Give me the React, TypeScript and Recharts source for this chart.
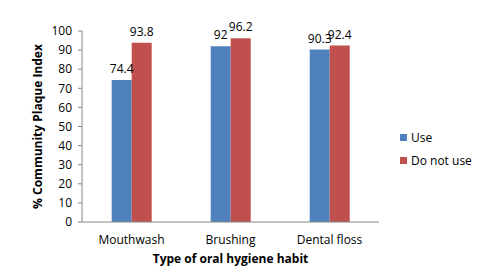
import React from 'react';
import { BarChart, Bar, XAxis, YAxis, LabelList, Label } from 'recharts';

const categories = ['Mouthwash', 'Brushing', 'Dental floss'];
const useValues = [74.4, 92, 90.3];
const notUseValues = [93.8, 96.2, 92.4];
const yTicks = [0, 10, 20, 30, 40, 50, 60, 70, 80, 90, 100];
const seriesNames = ['Use', 'Do not use'];
const seriesColors = ['#4F81BD', '#C0504D'];

const data = categories.map((name, i) => ({ name, use: useValues[i], notUse: notUseValues[i] }));

const FONT = '"Open Sans", sans-serif';

export default function App() {
  return (
    <div style={{ position: 'absolute', left: 0, top: 0, width: 479, height: 274, background: '#fff', fontFamily: FONT }}>
      <BarChart
        width={479}
        height={274}
        data={data}
        margin={{ top: 31, right: 100, bottom: 32, left: 42 }}
        barCategoryGap="30%"
        barGap={0}
      >
        <XAxis
          dataKey="name"
          height={20}
          tickLine={false}
          axisLine={{ stroke: '#868686' }}
          tick={{ fill: '#000', fontSize: 12, fontFamily: FONT }}
          tickMargin={7}
        >
          <Label
            value="Type of oral hygiene habit"
            position="bottom"
            offset={12}
            style={{ fontWeight: 'bold', fontSize: 12, fill: '#000', fontFamily: FONT }}
          />
        </XAxis>
        <YAxis
          width={40}
          domain={[0, 100]}
          ticks={yTicks}
          interval={0}
          tickSize={4}
          tickLine={{ stroke: '#868686' }}
          axisLine={{ stroke: '#868686' }}
          tick={{ fill: '#000', fontSize: 12, fontFamily: FONT }}
          tickMargin={6}
        >
          <Label
            value="% Community Plaque Index"
            angle={-90}
            position="insideLeft"
            offset={-4}
            style={{ textAnchor: 'middle', fontWeight: 'bold', fontSize: 12, fill: '#000', fontFamily: FONT }}
          />
        </YAxis>
        <Bar dataKey="use" name={seriesNames[0]} fill={seriesColors[0]} isAnimationActive={false}>
          <LabelList dataKey="use" position="top" offset={7} style={{ fill: '#000', fontSize: 12, fontFamily: FONT }} />
        </Bar>
        <Bar dataKey="notUse" name={seriesNames[1]} fill={seriesColors[1]} isAnimationActive={false}>
          <LabelList dataKey="notUse" position="top" offset={7} style={{ fill: '#000', fontSize: 12, fontFamily: FONT }} />
        </Bar>
      </BarChart>
      <div style={{ position: 'absolute', left: 400, top: 128 }}>
        {seriesNames.map((n, i) => (
          <div key={n} style={{ display: 'flex', alignItems: 'center', height: 18, marginBottom: 5, fontSize: 12, color: '#000' }}>
            <span style={{ display: 'inline-block', width: 7, height: 7, background: seriesColors[i], marginRight: 4 }} />
            {n}
          </div>
        ))}
      </div>
    </div>
  );
}
